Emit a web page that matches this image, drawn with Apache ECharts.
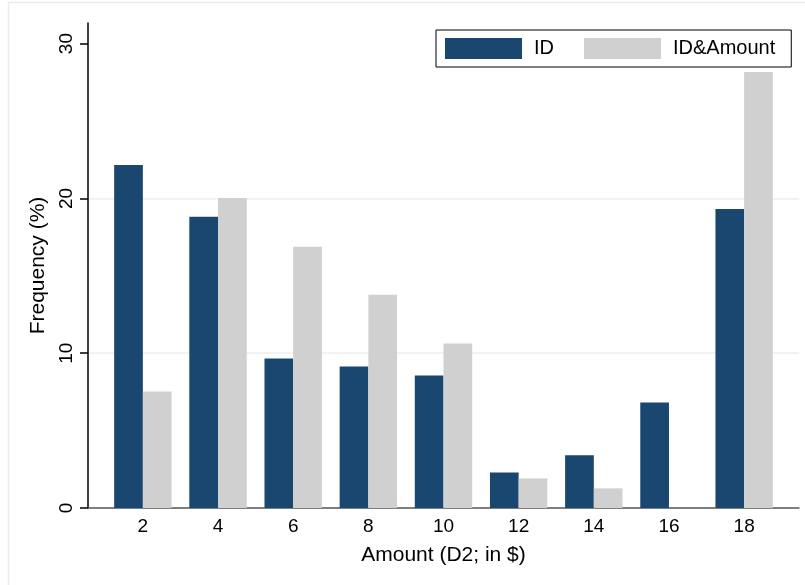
<!DOCTYPE html>
<html>
<head>
<meta charset="utf-8">
<script src="https://cdn.jsdelivr.net/npm/echarts@6/dist/echarts.min.js"></script>
<style>
html,body{margin:0;padding:0;background:#fff;}
#chart{width:805px;height:585px;}
</style>
</head>
<body>
<div id="chart"></div>
<script>
// Data
const amounts = [2, 4, 6, 8, 10, 12, 14, 16, 18];
const idValues = [22.16, 18.81, 9.65, 9.14, 8.56, 2.30, 3.40, 6.81, 19.32];
const idAmountValues = [7.52, 20.03, 16.87, 13.78, 10.62, 1.91, 1.27, 0, 28.16];
const yTicks = [0, 10, 20, 30];
const seriesNames = ['ID', 'ID&Amount'];

const FONT = '"Liberation Sans", Arial, Helvetica, sans-serif';
const chart = echarts.init(document.getElementById('chart'), null, {renderer: 'canvas'});

const option = {
  backgroundColor: '#ffffff',
  animation: false,
  textStyle: {fontFamily: FONT, color: '#000'},
  graphic: [
    {type: 'line', shape: {x1: 8.5, y1: 2.5, x2: 805, y2: 2.5}, style: {stroke: '#e6eef0', lineWidth: 1.5}, silent: true},
    {type: 'line', shape: {x1: 8.5, y1: 2.5, x2: 8.5, y2: 585}, style: {stroke: '#e6eef0', lineWidth: 1.5}, silent: true}
  ],
  grid: {left: 88, right: 6, top: 23, bottom: 77, containLabel: false},
  legend: {
    data: seriesNames,
    left: 436, top: 30,
    orient: 'horizontal',
    icon: 'rect',
    itemWidth: 77, itemHeight: 21,
    itemGap: 30,
    padding: [8, 16, 8, 9],
    borderColor: '#000', borderWidth: 1,
    backgroundColor: '#fff',
    textStyle: {fontFamily: FONT, fontSize: 20, color: '#000', padding: [0, 0, 0, 7]}
  },
  xAxis: {
    type: 'value',
    min: 0.54, max: 19.46,
    name: 'Amount (D2; in $)',
    nameLocation: 'middle',
    nameGap: 37,
    nameTextStyle: {fontFamily: FONT, fontSize: 21, color: '#000'},
    axisLine: {show: true, onZero: false, lineStyle: {color: '#555', width: 1.5}},
    axisTick: {show: false},
    splitLine: {show: false},
    axisLabel: {show: true, customValues: amounts, fontFamily: FONT, fontSize: 19, color: '#000', margin: 9}
  },
  yAxis: {
    type: 'value',
    min: 0, max: 31.33,
    interval: 10,
    name: 'Frequency (%)',
    nameLocation: 'middle',
    nameGap: 31,
    nameTextStyle: {fontFamily: FONT, fontSize: 21, color: '#000'},
    axisLine: {show: true, lineStyle: {color: '#000', width: 1.5}},
    axisTick: {show: true, length: 8, customValues: yTicks, lineStyle: {color: '#000', width: 1.5}},
    axisLabel: {show: true, rotate: 90, customValues: yTicks, fontFamily: FONT, fontSize: 19, color: '#000', margin: 12},
    splitLine: {show: true, showMaxLine: false, showMinLine: false, lineStyle: {color: '#e8f0f2', width: 1.5}}
  },
  series: [
    {
      name: seriesNames[0], type: 'bar',
      data: amounts.map((a, i) => [a, idValues[i]]),
      barWidth: 28.7, barGap: '0%',
      itemStyle: {color: '#1a476f'}
    },
    {
      name: seriesNames[1], type: 'bar',
      data: amounts.map((a, i) => [a, idAmountValues[i]]),
      barWidth: 28.7, barGap: '0%',
      itemStyle: {color: '#d0d0d0'}
    }
  ]
};
chart.setOption(option);
</script>
</body>
</html>
